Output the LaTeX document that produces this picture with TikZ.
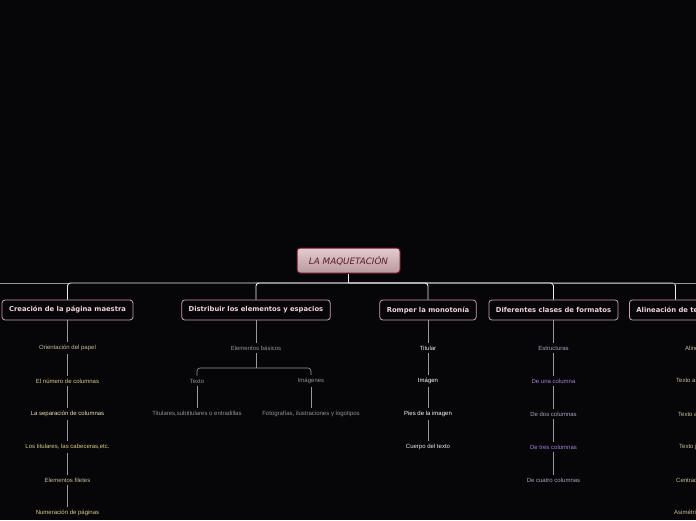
\documentclass[tikz,border=0pt]{standalone}
\usepackage{fontspec}
\setmainfont{DejaVu Sans}
\newfontfamily\smallfont{Liberation Sans}
\definecolor{bgcol}{HTML}{060609}
\definecolor{rootfill}{HTML}{D9B4BA}
\definecolor{rootdraw}{HTML}{6A1424}
\definecolor{roottext}{HTML}{5A1A2A}
\definecolor{topdraw}{HTML}{C8A0AC}
\definecolor{toptext}{HTML}{F2D2DA}
\definecolor{tancol}{HTML}{C8BC98}
\definecolor{yellcol}{HTML}{DCCB86}
\definecolor{lilac}{HTML}{A682D6}
\definecolor{lilacgray}{HTML}{ADA2BE}
\tikzset{
  rootbox/.style={draw=rootdraw, line width=1pt, rounded corners=3pt,
    top color=rootfill!70!white, bottom color=rootfill!85!black,
    minimum width=103pt, minimum height=25pt,
    font=\fontsize{8.8}{10}\selectfont\itshape, text=roottext},
  topbox/.style={draw=topdraw, line width=0.8pt, rounded corners=3pt, fill=bgcol,
    minimum height=20pt, inner xsep=7pt,
    font=\fontsize{6.8}{8}\selectfont\bfseries, text=toptext},
  leaf/.style={inner sep=3pt, font=\smallfont\fontsize{6}{7}\selectfont},
  busline/.style={draw=white!85!gray, line width=0.9pt},
  subline/.style={draw=gray!80!white, line width=0.6pt}
}
\begin{document}
\begin{tikzpicture}[x=1pt, y=-1pt]
  \useasboundingbox (0,0) rectangle (696,520);
  \fill[bgcol] (0,0) rectangle (696,520);
  \clip (0,0) rectangle (696,520);
  % Root and main branches
  \node[rootbox] (root) at (348.5,260.5) {LA MAQUETACIÓN};
  \coordinate (bus) at (348.5,283);
  \coordinate (leftend) at (0,283);
  \coordinate (rightend) at (696,283);
  \node[topbox] (pagina) at (67.5,310) {Creación de la página maestra};
  \node[topbox] (distrib) at (256,310) {Distribuir los elementos y espacios};
  \node[topbox] (romper) at (428,310) {Romper la monotonía};
  \node[topbox] (formatos) at (553.5,310) {Diferentes clases de formatos};
  \node[topbox, anchor=west] (alinea) at (629,310) {Alineación de textos};
  \draw[busline] (root) -- (bus);
  \foreach \m in {pagina,distrib,romper,formatos,alinea}
    \draw[busline, rounded corners=3pt] (bus) -| (\m.north);
  \draw[subline] (pagina.north |- bus) -- (leftend);
  \draw[subline] (formatos.north |- bus) -- (rightend);
  % Creación de la página maestra
  \node[leaf, text=tancol] (p1) at (67.5,348) {Orientación del papel};
  \node[leaf, text=yellcol] (p2) at (67.5,381) {El número de columnas};
  \node[leaf, text=yellcol!60!white] (p3) at (67.5,414) {La separación de columnas};
  \node[leaf, text=yellcol] (p4) at (67.5,447) {Los titulares, las cabeceras,etc.};
  \node[leaf, text=tancol] (p5) at (67.5,480) {Elementos filetes};
  \node[leaf, text=yellcol] (p6) at (67.5,513) {Numeración de páginas};
  \draw[subline] (pagina) -- (p1);
  \foreach \a/\b in {p1/p2,p2/p3,p3/p4,p4/p5,p5/p6}
    \draw[subline] (\a) -- (\b);
  % Distribuir los elementos y espacios
  \node[leaf, text=gray!85!white] (basicos) at (256,348) {Elementos básicos};
  \coordinate (fork) at (256,368);
  \node[leaf, text=gray!85!white] (texto) at (197,381) {Texto};
  \node[leaf, text=gray!85!white] (imagenes) at (311,381) {Imágenes};
  \node[leaf, text=gray!85!white] (titulares) at (197,414) {Titulares,subtitulares o entradillas};
  \node[leaf, text=gray!85!white] (fotos) at (311,414) {Fotografías, ilustraciones y logotipos};
  \draw[subline] (distrib) -- (basicos);
  \draw[subline] (basicos) -- (fork);
  \draw[subline, rounded corners=3pt] (fork) -| (texto);
  \draw[subline, rounded corners=3pt] (fork) -| (imagenes);
  \draw[subline] (texto) -- (titulares);
  \draw[subline] (imagenes) -- (fotos);
  % Romper la monotonía
  \node[leaf, text=white!85!gray] (r1) at (428,348) {Titular};
  \node[leaf, text=white] (r2) at (428,381) {Imágen};
  \node[leaf, text=white] (r3) at (428,414) {Pies de la imagen};
  \node[leaf, text=white!85!gray] (r4) at (428,447) {Cuerpo del texto};
  \draw[subline] (romper) -- (r1);
  \foreach \a/\b in {r1/r2,r2/r3,r3/r4}
    \draw[subline] (\a) -- (\b);
  % Diferentes clases de formatos
  \node[leaf, text=lilacgray] (f1) at (553.5,348) {Estructuras};
  \node[leaf, text=lilac] (f2) at (553.5,381) {De una columna};
  \node[leaf, text=lilacgray] (f3) at (553.5,414) {De dos columnas};
  \node[leaf, text=lilac] (f4) at (553.5,447) {De tres columnas};
  \node[leaf, text=lilacgray] (f5) at (553.5,480) {De cuatro columnas};
  \draw[subline] (formatos) -- (f1);
  \foreach \a/\b in {f1/f2,f2/f3,f3/f4,f4/f5}
    \draw[subline] (\a) -- (\b);
  % Alineación de textos
  \node[leaf, text=tancol, anchor=west] (a1) at (682,348) {Alineaciones};
  \node[leaf, text=tancol, anchor=west] (a2) at (673,381) {Texto a la izquierda};
  \node[leaf, text=tancol, anchor=west] (a3) at (675,414) {Texto a la derecha};
  \node[leaf, text=tancol, anchor=west] (a4) at (676,447) {Texto justificado};
  \node[leaf, text=tancol, anchor=west] (a5) at (673,480) {Centrado en la columna};
  \node[leaf, text=tancol, anchor=west] (a6) at (671,513) {Asimétrico o irregular};
\end{tikzpicture}
\end{document}
